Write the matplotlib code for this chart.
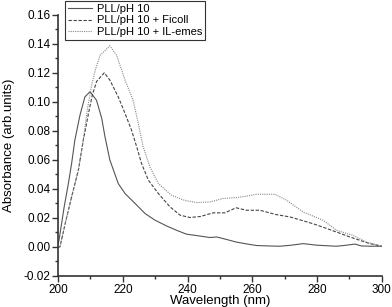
import matplotlib
matplotlib.use("Agg")
import matplotlib.pyplot as plt
from matplotlib.ticker import MultipleLocator

plt.rcParams['font.family'] = ['Liberation Sans', 'DejaVu Sans']

# PLL/pH 10
wl_pll = [200, 200.3, 201.1, 201.9, 203.2, 204.2, 205.2, 206.8, 208.3, 209.9,
          211.9, 213.5, 214.5, 216.0, 218.6, 220.7, 223.8, 226.9, 230.0, 233.5,
          236.6, 239.7, 243.0, 246.9, 249.0, 252.0, 255.0, 258.0, 261.3, 265.0,
          268.5, 272.0, 275.7, 280.0, 286.0, 289.0, 291.7, 293.7, 297.0, 300]
abs_pll = [0.002, 0.0046, 0.016, 0.0276, 0.0437, 0.0575, 0.0736, 0.091, 0.1034, 0.107,
           0.101, 0.0886, 0.076, 0.060, 0.0437, 0.0368, 0.030, 0.023, 0.0184, 0.0145,
           0.0115, 0.0088, 0.0078, 0.0065, 0.0069, 0.0052, 0.0034, 0.0022, 0.001, 0.0007,
           0.0005, 0.0012, 0.0023, 0.0012, 0.0005, 0.0012, 0.002, 0.0007, 0.0005, 0.0005]

# PLL/pH 10 + Ficoll
wl_ficoll = [200, 200.6, 202.2, 204.2, 206.3, 207.8, 208.3, 209.5, 210.6, 211.9,
             214.3, 216.0, 218.6, 220.7, 222.7, 224.3, 225.8, 227.9, 231.0, 234.6,
             237.7, 240.7, 244.0, 247.9, 251.5, 255.0, 258.2, 262.3, 267.4, 271.6,
             275.0, 278.8, 282.0, 286.0, 290.0, 293.2, 296.0, 300]
abs_ficoll = [0.0, 0.0, 0.016, 0.0345, 0.053, 0.0736, 0.079, 0.093, 0.1046, 0.114,
              0.120, 0.115, 0.1034, 0.092, 0.0805, 0.069, 0.0575, 0.046, 0.0368, 0.0276,
              0.0219, 0.0203, 0.021, 0.0235, 0.0235, 0.027, 0.0253, 0.0253, 0.0223, 0.0207,
              0.0185, 0.016, 0.0135, 0.0103, 0.007, 0.0046, 0.0025, 0.0005]

# PLL/pH 10 + IL-emes
wl_ilemes = [200, 200.6, 202.2, 204.2, 206.3, 207.8, 209.0, 210.4, 211.4, 213.0,
             216.0, 218.1, 220.7, 223.2, 224.8, 226.3, 228.4, 231.0, 235.0, 239.2,
             242.8, 246.9, 251.0, 255.0, 258.2, 261.3, 267.0, 270.6,
             275.7, 281.9, 286.0, 291.1, 295.2, 300]
abs_ilemes = [0.0, 0.0, 0.016, 0.0345, 0.053, 0.0736, 0.094, 0.1115, 0.121, 0.132,
              0.1386, 0.132, 0.115, 0.101, 0.085, 0.069, 0.055, 0.0437, 0.0357, 0.032,
              0.0306, 0.031, 0.0334, 0.034, 0.035, 0.0363, 0.0363, 0.0322,
              0.0241, 0.0184, 0.0115, 0.008, 0.0034, 0.0005]

fig = plt.figure(figsize=(3.92, 3.07), dpi=100)
ax = fig.add_axes([0.148, 0.101, 0.826, 0.851])

ax.plot(wl_pll, abs_pll, color='#555555', lw=0.8, ls='-', label='PLL/pH 10')
ax.plot(wl_ficoll, abs_ficoll, color='#444444', lw=0.8, ls=(0, (3, 1.5)),
        label='PLL/pH 10 + Ficoll')
ax.plot(wl_ilemes, abs_ilemes, color='#888888', lw=0.8, ls=(0, (1, 1)),
        label='PLL/pH 10 + IL-emes')

ax.set_xlim(200, 300)
ax.set_ylim(-0.02, 0.16)
ax.xaxis.set_major_locator(MultipleLocator(20))
ax.xaxis.set_minor_locator(MultipleLocator(10))
ax.yaxis.set_major_locator(MultipleLocator(0.02))
ax.yaxis.set_minor_locator(MultipleLocator(0.01))
ax.yaxis.set_major_formatter(plt.FuncFormatter(lambda v, p: '%.2f' % v))

for s in ['top', 'right']:
    ax.spines[s].set_visible(False)
for s in ['left', 'bottom']:
    ax.spines[s].set_linewidth(1.2)
    ax.spines[s].set_color('#333333')

ax.tick_params(which='major', direction='out', length=4, width=1, labelsize=8.5,
               color='#333333', pad=1.5)
ax.tick_params(which='minor', direction='out', length=2.5, width=1, color='#333333')

ax.set_xlabel('Wavelength (nm)', fontsize=9.5, va='center')
ax.xaxis.set_label_coords(0.5, -0.097)
ax.set_ylabel('Absorbance (arb.units)', fontsize=9.5, labelpad=6)

leg = ax.legend(loc='upper left', bbox_to_anchor=(65 / 392, 1 - 1 / 307),
                bbox_transform=fig.transFigure, fontsize=8, frameon=True,
                fancybox=False, edgecolor='#333333', framealpha=1,
                handlelength=2.2, handletextpad=0.4, borderpad=0.25,
                labelspacing=0.15, borderaxespad=0)
leg.get_frame().set_linewidth(0.8)

fig.savefig('out.png', dpi=100)
